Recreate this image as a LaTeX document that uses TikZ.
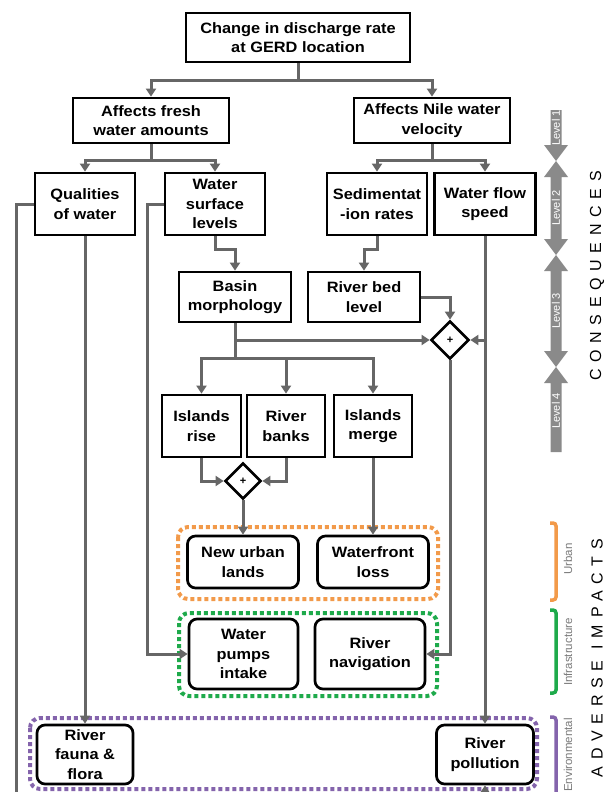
\documentclass[tikz,border=0pt]{standalone}
\usepackage{fontspec}
\setmainfont{Liberation Sans}
\newfontfamily\boxfont{Liberation Sans}[FakeStretch=1.09]
\newfontfamily\spacedfont{Liberation Sans}[LetterSpace=42]
\usetikzlibrary{shapes.geometric,arrows.meta}
\definecolor{linegray}{HTML}{666666}
\definecolor{levelgray}{HTML}{8A8A8A}
\definecolor{orangeC}{HTML}{F29A4A}
\definecolor{greenC}{HTML}{1EAA4B}
\definecolor{purpleC}{HTML}{8464AC}
\definecolor{subgray}{HTML}{7A7A7A}
\tikzset{
  box/.style={draw=black, line width=2.7pt, fill=white, align=center, inner sep=0pt,
    font=\fontsize{15}{19.5}\selectfont\boxfont\bfseries},
  rbox/.style={box, rounded corners=8pt},
  dia/.style={draw=black, line width=2.7pt, fill=white, diamond, aspect=1,
    minimum width=38pt, minimum height=38pt, inner sep=0pt,
    font=\fontsize{11}{11}\selectfont\bfseries},
  conn/.style={draw=linegray, line width=3pt, line join=miter},
  arr/.style={conn, -{Triangle[length=8pt,width=10pt]}},
  grp/.style={line width=4pt, dash pattern=on 4pt off 3pt, rounded corners=10pt},
  bracket/.style={line width=3.5pt, rounded corners=3pt},
  lvlbar/.style={fill=levelgray, draw=none},
  lvltext/.style={text=white, inner sep=0pt, font=\fontsize{11}{11}\selectfont},
  subtext/.style={text=subgray, inner sep=0pt, font=\fontsize{11.5}{11.5}\selectfont},
  bigtext/.style={text=black, inner sep=0pt, font=\fontsize{16}{16}\selectfont\spacedfont},
}
\begin{document}
\begin{tikzpicture}[x=1pt,y=-1pt]
\useasboundingbox (0,0) rectangle (605,792);
\clip (0,0) rectangle (605,792);

% dotted groups
\draw[grp, draw=orangeC] (178,527) rectangle (438,599);
\draw[grp, draw=greenC] (179,613) rectangle (437,696);
\draw[grp, draw=purpleC] (30,718) rectangle (537,789);

% boxes
\node[box, minimum width=224pt, minimum height=49pt] (top) at (298,37.5) {Change in discharge rate\\at GERD location};
\node[box, minimum width=156pt, minimum height=45pt] (fresh) at (151,120.5) {Affects fresh\\water amounts};
\node[box, minimum width=156pt, minimum height=45pt] (nile) at (432,120.5) {Affects Nile water\\velocity};
\node[box, minimum width=100pt, minimum height=62pt] (qual) at (85,204) {Qualities\\of water};
\node[box, minimum width=100pt, minimum height=62pt] (wsl) at (215,204) {Water\\surface\\levels};
\node[box, minimum width=100pt, minimum height=62pt] (sed) at (377,204) {Sedimentat\\-ion rates};
\node[box, minimum width=101pt, minimum height=62pt] (wfs) at (485,204) {Water flow\\speed};
\node[box, minimum width=112pt, minimum height=50pt] (basin) at (235,297) {Basin\\morphology};
\node[box, minimum width=112pt, minimum height=50pt] (rbl) at (364,297) {River bed\\level};
\node[dia] (d1) at (450,340) {+};
\node[box, minimum width=79pt, minimum height=62pt] (irise) at (201.5,426) {Islands\\rise};
\node[box, minimum width=78pt, minimum height=62pt] (rbanks) at (286,426) {River\\banks};
\node[box, minimum width=78pt, minimum height=62pt] (imerge) at (373,426) {Islands\\merge};
\node[dia, minimum width=36pt, minimum height=36pt] (d2) at (243,481) {+};
\node[rbox, minimum width=111pt, minimum height=52pt] (newurban) at (243,562) {New urban\\lands};
\node[rbox, minimum width=111pt, minimum height=52pt] (waterfront) at (373,562) {Waterfront\\loss};
\node[rbox, minimum width=109pt, minimum height=70pt] (pumps) at (243.5,654) {Water\\pumps\\intake};
\node[rbox, minimum width=110pt, minimum height=70pt] (nav) at (370,654) {River\\navigation};
\node[rbox, minimum width=96pt, minimum height=59pt] (fauna) at (85,754.5) {River\\fauna \&\\flora};
\node[rbox, minimum width=97pt, minimum height=59pt] (pollution) at (485,754.5) {River\\pollution};

% connectors
\coordinate (t1) at (298,80);
\draw[conn] (top.south) -- (t1);
\draw[arr] (t1) -| (fresh.north);
\draw[arr] (t1) -| (nile.north);
\coordinate (f1) at (151,160);
\draw[conn] (fresh.south) -- (f1);
\draw[arr] (f1) -| (qual.north);
\draw[arr] (f1) -| (wsl.north);
\coordinate (n1) at (432,160);
\draw[conn] (nile.south) -- (n1);
\draw[arr] (n1) -| (sed.north);
\draw[arr] (n1) -| (wfs.north);
\coordinate (w1) at (215,249);
\draw[arr] (wsl.south) -- (w1) -| (basin.north);
\coordinate (s1) at (377,249);
\draw[arr] (sed.south) -- (s1) -| (rbl.north);
\draw[arr] (rbl.east) -| (d1.north);
\coordinate (b1) at (235,340);
\coordinate (b2) at (235,358);
\draw[conn] (basin.south) -- (b2);
\draw[arr] (b1) -- (d1.west);
\draw[arr] (b2) -| (irise.north);
\draw[arr] (b2) -| (imerge.north);
\draw[arr] (rbanks.north |- b2) -- (rbanks.north);
\draw[arr] (wfs.south) -- (pollution.north);
\draw[arr] (wfs.south |- d1.east) -- (d1.east);
\draw[arr] (irise.south) |- (d2.west);
\draw[arr] (rbanks.south) |- (d2.east);
\draw[arr] (d2.south) -- (newurban.north);
\draw[arr] (imerge.south) -- (waterfront.north);
\draw[arr] (d1.south) |- (nav.east);
\coordinate (wl) at (147,654);
\draw[arr] (wsl.west) -| (wl) -- (pumps.west);
\coordinate (qbot) at (16,800);
\draw[conn] (qual.west) -| (qbot);
\draw[arr] (qual.south) -- (fauna.north);
\coordinate (pbot) at (485,800);
\draw[arr] (pbot) -- (pollution.south);

% level arrows
\fill[lvlbar] (550.5,110) -- (561.5,110) -- (561.5,145) -- (568,145) -- (556,161) -- (544,145) -- (550.5,145) -- cycle;
\fill[lvlbar] (556,161) -- (568,177) -- (561.5,177) -- (561.5,239) -- (568,239) -- (556,255) -- (544,239) -- (550.5,239) -- (550.5,177) -- (544,177) -- cycle;
\fill[lvlbar] (556,255) -- (568,271) -- (561.5,271) -- (561.5,351) -- (568,351) -- (556,367) -- (544,351) -- (550.5,351) -- (550.5,271) -- (544,271) -- cycle;
\fill[lvlbar] (556,367) -- (568,383) -- (561.5,383) -- (561.5,452) -- (550.5,452) -- (550.5,383) -- (544,383) -- cycle;
\node[lvltext, rotate=90] (lv1) at (556,128) {Level 1};
\node[lvltext, rotate=90] (lv2) at (556,208) {Level 2};
\node[lvltext, rotate=90] (lv3) at (556,311) {Level 3};
\node[lvltext, rotate=90] (lv4) at (556,411) {Level 4};

% brackets
\draw[bracket, draw=orangeC] (550,523) -- (556,523) -- (556,600) -- (550,600);
\draw[bracket, draw=greenC] (550,610) -- (556,610) -- (556,693) -- (550,693);
\draw[bracket, draw=purpleC] (550,717) -- (556,717) -- (556,800) -- (550,800);
\node[subtext, rotate=90] (urb) at (568,559) {Urban};
\node[subtext, rotate=90] (inf) at (568,652) {Infrastructure};
\node[subtext, rotate=90] (env) at (568,755) {Environmental};

\node[bigtext, rotate=90] (cons) at (597,276) {CONSEQUENCES};
\node[bigtext, rotate=90] (adv) at (597,658) {ADVERSE IMPACTS};
\end{tikzpicture}
\end{document}
